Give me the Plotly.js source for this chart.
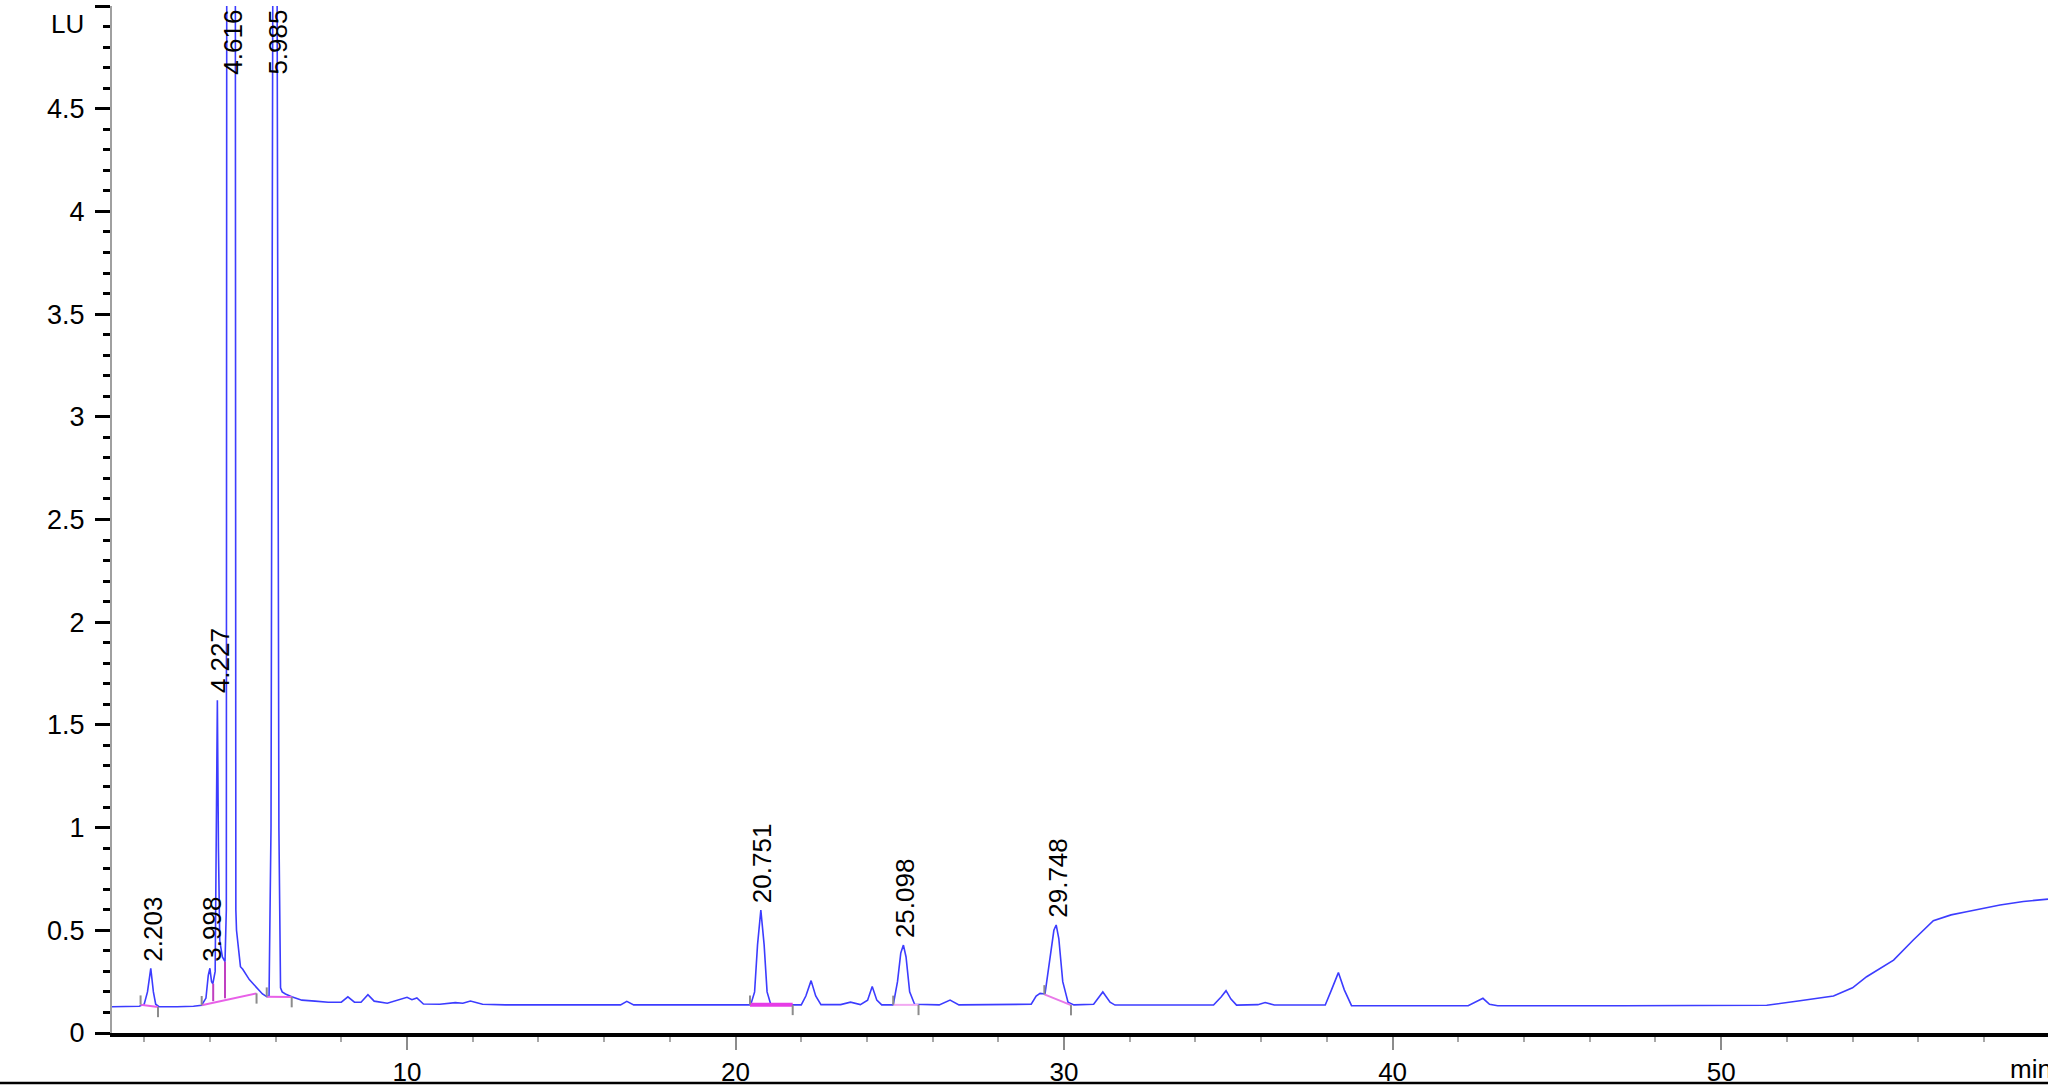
<!DOCTYPE html>
<html>
<head>
<meta charset="utf-8">
<script src="https://cdn.plot.ly/plotly-3.0.1.min.js"></script>
<style>
  html, body { margin: 0; padding: 0; background: #fff; }
  #chart { width: 2048px; height: 1092px; }
</style>
</head>
<body>
<div id="chart"></div>
<script>
// ---- Chromatogram signal (time in min, signal in LU) ----
const time = [
  1.02, 1.50, 1.85, 2.00, 2.10, 2.20, 2.28, 2.35, 2.45, 3.00,
  3.50, 3.75, 3.88, 3.95, 4.00, 4.05, 4.09, 4.16, 4.20, 4.227,
  4.26, 4.30, 4.38, 4.46, 4.50, 4.515, 4.616, 4.77, 4.79, 4.81,
  4.93, 5.00, 5.20, 5.42, 5.60, 5.73, 5.80, 5.86, 5.92, 5.985,
  6.04, 6.10, 6.15, 6.20, 6.30, 6.49, 6.80, 7.20, 7.60, 8.00,
  8.20, 8.40, 8.60, 8.81, 9.00, 9.40, 9.80, 10.00, 10.15, 10.30,
  10.50, 11.00, 11.47, 11.70, 11.93, 12.30, 13.00, 14.00, 15.00, 16.50,
  16.69, 16.90, 18.00, 19.00, 20.00, 20.46, 20.58, 20.67, 20.77, 20.87,
  20.96, 21.07, 21.30, 22.00, 22.14, 22.30, 22.44, 22.60, 23.20, 23.50,
  23.80, 24.02, 24.16, 24.30, 24.45, 24.80, 24.93, 25.03, 25.11, 25.19,
  25.30, 25.45, 26.20, 26.53, 26.80, 28.00, 29.00, 29.15, 29.27, 29.42,
  29.57, 29.69, 29.76, 29.84, 29.96, 30.12, 30.30, 30.90, 31.18, 31.40,
  31.55, 33.00, 34.55, 34.78, 34.93, 35.08, 35.25, 35.90, 36.12, 36.40,
  37.95, 38.14, 38.35, 38.53, 38.75, 42.30, 42.55, 42.75, 42.95, 43.20,
  47.00, 51.00, 51.39, 52.40, 53.42, 54.00, 54.43, 55.25, 55.85, 56.46,
  57.00, 57.47, 58.49, 59.20, 59.95
];
const signal = [
  0.128, 0.128, 0.130, 0.140, 0.200, 0.315, 0.200, 0.140, 0.128, 0.128,
  0.130, 0.135, 0.170, 0.280, 0.315, 0.250, 0.240, 0.300, 1.000, 1.620,
  0.900, 0.450, 0.370, 0.347, 0.600, 6.000, 9.000, 6.500, 0.600, 0.500,
  0.323, 0.310, 0.260, 0.220, 0.190, 0.177, 0.180, 1.000, 5.500, 8.000,
  5.500, 1.000, 0.220, 0.200, 0.190, 0.177, 0.160, 0.155, 0.150, 0.150,
  0.176, 0.150, 0.150, 0.187, 0.155, 0.145, 0.165, 0.174, 0.162, 0.171,
  0.141, 0.140, 0.148, 0.145, 0.156, 0.140, 0.137, 0.137, 0.137, 0.137,
  0.154, 0.137, 0.137, 0.137, 0.137, 0.137, 0.200, 0.430, 0.599, 0.430,
  0.200, 0.140, 0.137, 0.137, 0.180, 0.255, 0.180, 0.138, 0.138, 0.150,
  0.138, 0.160, 0.226, 0.160, 0.137, 0.137, 0.250, 0.390, 0.428, 0.370,
  0.200, 0.140, 0.137, 0.160, 0.137, 0.137, 0.140, 0.180, 0.193, 0.190,
  0.350, 0.500, 0.526, 0.460, 0.250, 0.150, 0.137, 0.140, 0.200, 0.150,
  0.136, 0.136, 0.136, 0.175, 0.206, 0.165, 0.136, 0.138, 0.148, 0.136,
  0.136, 0.210, 0.294, 0.210, 0.133, 0.133, 0.155, 0.169, 0.140, 0.133,
  0.133, 0.133, 0.135, 0.157, 0.180, 0.220, 0.274, 0.355, 0.453, 0.547,
  0.575, 0.590, 0.623, 0.640, 0.652
];

// ---- Peak labels (retention times) and apex heights ----
const peakRT   = [2.203, 3.998, 4.227, 4.616, 5.985, 20.751, 25.098, 29.748];
const peakApex = [0.315, 0.315, 1.620, 9.000, 8.000, 0.599, 0.428, 0.526];

// ---- Integration baselines (start/end time and level) ----
const baseStartT = [1.89, 3.75, 5.73, 20.44, 24.80, 29.40];
const baseStartV = [0.138, 0.135, 0.177, 0.137, 0.137, 0.188];
const baseEndT   = [2.42, 5.42, 6.49, 21.74, 25.57, 30.21];
const baseEndV   = [0.127, 0.193, 0.175, 0.137, 0.137, 0.136];
const baseColor  = ['#e860e8', '#e860e8', '#e860e8', '#e63ce6', '#f2a8f2', '#e878e8'];
const baseWidth  = [2, 2, 2, 4, 2, 2];

// ---- Drop lines between fused peaks ----
const dropT   = [4.10, 4.46];
const dropLow = [0.155, 0.169];
const dropTop = [0.240, 0.347];

// ---- Axis ticks ----
const xTickVals = [10, 20, 30, 40, 50];
const xTickText = ['10', '20', '30', '40', '50'];
const yTickVals = [0, 0.5, 1, 1.5, 2, 2.5, 3, 3.5, 4, 4.5, 5];
const yTickText = ['0', '0.5', '1', '1.5', '2', '2.5', '3', '3.5', '4', '4.5', ''];

const FONT = 'Liberation Sans, Arial, Helvetica, sans-serif';
const YMAX = 5;

const traces = [{
  type: 'scatter', mode: 'lines',
  x: time, y: signal,
  line: { color: 'rgb(60,60,255)', width: 1.6 },
  hoverinfo: 'skip', showlegend: false
}];

const shapes = [];
for (let i = 0; i < baseStartT.length; i++) {
  shapes.push({ type: 'line', xref: 'x', yref: 'y',
    x0: baseStartT[i], y0: baseStartV[i], x1: baseEndT[i], y1: baseEndV[i],
    line: { color: baseColor[i], width: baseWidth[i] } });
  // start event tick (up) and end event tick (down)
  shapes.push({ type: 'line', xref: 'x', yref: 'y',
    x0: baseStartT[i], y0: baseStartV[i], x1: baseStartT[i], y1: baseStartV[i] + 0.045,
    line: { color: '#8c8c8c', width: 2 } });
  shapes.push({ type: 'line', xref: 'x', yref: 'y',
    x0: baseEndT[i], y0: baseEndV[i], x1: baseEndT[i], y1: baseEndV[i] - 0.05,
    line: { color: '#8c8c8c', width: 2 } });
}
for (let i = 0; i < dropT.length; i++) {
  shapes.push({ type: 'line', xref: 'x', yref: 'y',
    x0: dropT[i], y0: dropLow[i], x1: dropT[i], y1: dropTop[i],
    line: { color: '#c040c0', width: 2 } });
}
// bottom frame line of the window
shapes.push({ type: 'line', xref: 'paper', yref: 'paper',
  x0: -0.06, x1: 1.0, y0: -0.0487, y1: -0.0487,
  line: { color: '#000', width: 2.5 } });

const annotations = peakRT.map((rt, i) => ({
  xref: 'x', yref: 'y',
  x: rt, y: Math.min(peakApex[i], 4.63),
  text: rt.toFixed(3), textangle: -90,
  showarrow: false, xanchor: 'center', yanchor: 'bottom',
  xshift: 2, yshift: 5,
  font: { family: FONT, size: 26, color: '#000' }
}));
annotations.push({ xref: 'paper', yref: 'paper', x: -0.0134, y: 0.9825,
  text: 'LU', showarrow: false, xanchor: 'right', yanchor: 'middle',
  font: { family: FONT, size: 26, color: '#000' } });
annotations.push({ xref: 'paper', yref: 'paper', x: 0.9793, y: -0.035,
  text: 'min', showarrow: false, xanchor: 'left', yanchor: 'middle',
  font: { family: FONT, size: 26, color: '#000' } });

const layout = {
  width: 2048, height: 1092,
  margin: { l: 112, r: 0, t: 6, b: 59, pad: 0 },
  paper_bgcolor: '#fff', plot_bgcolor: '#fff',
  showlegend: false,
  font: { family: FONT, size: 26, color: '#000' },
  xaxis: {
    range: [1.02, 59.95], showgrid: false, zeroline: false,
    showline: true, linecolor: '#000', linewidth: 4,
    tickmode: 'array', tickvals: xTickVals, ticktext: xTickText,
    ticks: 'outside', ticklen: 13, tickwidth: 2, tickcolor: '#8c8c8c',
    minor: { dtick: 2, tick0: 0, ticks: 'outside', ticklen: 5, tickwidth: 2, tickcolor: '#a8a8a8', showgrid: false },
    tickfont: { family: FONT, size: 26, color: '#000' }
  },
  yaxis: {
    range: [0, YMAX], showgrid: false, zeroline: false,
    showline: true, linecolor: '#a0a0a0', linewidth: 2,
    tickmode: 'array', tickvals: yTickVals, ticktext: yTickText,
    ticks: 'outside', ticklen: 15, tickwidth: 3, tickcolor: '#000',
    ticklabelstandoff: 5,
    minor: { dtick: 0.1, tick0: 0, ticks: 'outside', ticklen: 7, tickwidth: 3, tickcolor: '#000', showgrid: false },
    tickfont: { family: FONT, size: 27, color: '#000' }
  },
  shapes: shapes,
  annotations: annotations
};

Plotly.newPlot('chart', traces, layout, { displayModeBar: false, staticPlot: true });
</script>
</body>
</html>
